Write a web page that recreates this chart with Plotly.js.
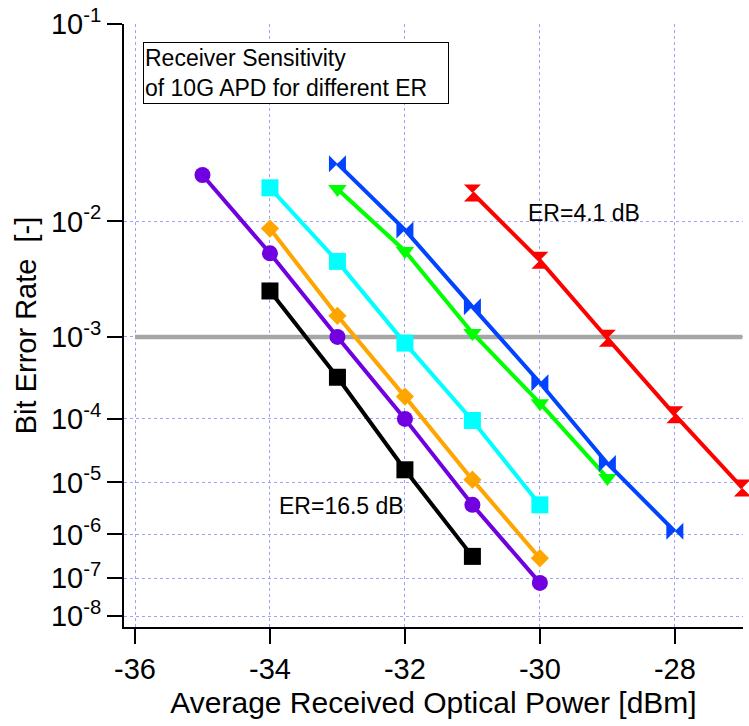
<!DOCTYPE html>
<html>
<head>
<meta charset="utf-8">
<script src="https://cdn.plot.ly/plotly-3.0.1.min.js"></script>
<style>html,body{margin:0;padding:0;background:#fff;}#chart{width:749px;height:726px;}</style>
</head>
<body>
<div id="chart"></div>
<script>
// Average received optical power [dBm] and Bit Error Rate for each ER curve
const purpleX = [-35, -34, -33, -32, -31, -30];
const purpleBER = [2.0e-2, 5.8e-3, 1.0e-3, 1.0e-4, 3.9e-6, 7.7e-8];
const blackX = [-34, -33, -32, -31];
const blackBER = [2.8e-3, 3.5e-4, 1.65e-5, 3.3e-7];
const orangeX = [-34, -33, -32, -31, -30];
const orangeBER = [8.9e-3, 1.64e-3, 2.0e-4, 1.12e-5, 3.0e-7];
const cyanX = [-34, -33, -32, -31, -30];
const cyanBER = [1.67e-2, 5.0e-3, 8.6e-4, 9.5e-5, 3.9e-6];
const greenX = [-33, -32, -31, -30, -29];
const greenBER = [1.64e-2, 6.05e-3, 1.1e-3, 1.64e-4, 1.2e-5];
const blueX = [-33, -32, -31, -30, -29, -28];
const blueBER = [2.33e-2, 8.7e-3, 2.0e-3, 3.0e-4, 2.1e-5, 1.16e-6];
const redX = [-31, -30, -29, -28, -27];
const redBER = [1.55e-2, 5.1e-3, 9.7e-4, 1.14e-4, 8.0e-6];
const refLineX = [-36, -27];
const refLineBER = [1e-3, 1e-3];

const yTickBER = [1e-1, 1e-2, 1e-3, 1e-4, 1e-5, 1e-6, 1e-7, 1e-8];
const yTickText = ['10<sup>-1</sup>', '10<sup>-2</sup>', '10<sup>-3</sup>', '10<sup>-4</sup>',
                   '10<sup>-5</sup>', '10<sup>-6</sup>', '10<sup>-7</sup>', '10<sup>-8</sup>'];
const xTickVals = [-36, -34, -32, -30, -28];
const xTickText = ['-36', '-34', '-32', '-30', '-28'];

// BER axis scale: log10(-log10(BER))
const T = b => Math.log10(-Math.log10(b));
const tr = arr => arr.map(T);

const FONT = 'Liberation Sans, Arial, Helvetica, sans-serif';

function series(x, ber, color, symbol, size) {
  return {
    x: x, y: tr(ber), type: 'scatter', mode: 'lines+markers',
    line: {color: color, width: 4},
    marker: {color: color, symbol: symbol, size: size, line: {width: 0}},
    cliponaxis: false, showlegend: false, hoverinfo: 'skip'
  };
}

const traces = [
  {x: refLineX, y: tr(refLineBER), type: 'scatter', mode: 'lines',
   line: {color: '#a6a6a6', width: 4.5}, showlegend: false, hoverinfo: 'skip'},
  series(blackX, blackBER, '#000000', 'square', 17),
  series(orangeX, orangeBER, '#FFA500', 'diamond', 14),
  series(purpleX, purpleBER, '#7000E0', 'circle', 16),
  series(cyanX, cyanBER, '#00FFFF', 'square', 17),
  series(greenX, greenBER, '#00FF00', 'triangle-down', 16),
  series(blueX, blueBER, '#0044FF', 'bowtie', 17),
  series(redX, redBER, '#FF0000', 'hourglass', 17)
];

const layout = {
  width: 749, height: 726,
  margin: {l: 124, r: 6, t: 24, b: 99},
  paper_bgcolor: '#ffffff', plot_bgcolor: '#ffffff',
  font: {family: FONT, color: '#000'},
  showlegend: false,
  xaxis: {
    range: [-36.163, -26.99],
    tickvals: xTickVals, ticktext: xTickText,
    ticks: 'outside', ticklen: 15, tickwidth: 2, tickcolor: '#000',
    showline: true, linecolor: '#000', linewidth: 2,
    showgrid: true, gridcolor: '#a0a0ff', gridwidth: 1, griddash: 'dot',
    zeroline: false,
    tickfont: {family: FONT, size: 29, color: '#000'},
    title: {text: 'Average Received Optical Power [dBm]', font: {family: FONT, size: 30, color: '#000'}, standoff: 8}
  },
  yaxis: {
    range: [T(Math.pow(10, -8.305)), 0],
    tickvals: tr(yTickBER), ticktext: yTickText,
    ticks: 'outside', ticklen: 15, tickwidth: 2, tickcolor: '#000',
    showline: true, linecolor: '#000', linewidth: 2,
    showgrid: true, gridcolor: '#a0a0ff', gridwidth: 1, griddash: 'dot',
    zeroline: false,
    tickfont: {family: FONT, size: 29, color: '#000'},
    title: {text: 'Bit Error Rate\u00a0\u00a0[-]', font: {family: FONT, size: 29, color: '#000'}, standoff: 6}
  },
  annotations: [
    {xref: 'paper', yref: 'paper', x: 0.0307, y: 0.970, xanchor: 'left', yanchor: 'top',
     text: 'Receiver Sensitivity<br>of 10G APD for different ER', align: 'left', valign: 'middle',
     showarrow: false, width: 302, height: 58, borderpad: 1, bordercolor: '#000', borderwidth: 1,
     bgcolor: '#ffffff', font: {family: FONT, size: 23, color: '#000'}},
    {xref: 'paper', yref: 'paper', x: 0.743, y: 0.6866, xanchor: 'center', yanchor: 'middle',
     text: 'ER=4.1 dB', showarrow: false, font: {family: FONT, size: 23, color: '#000'}},
    {xref: 'paper', yref: 'paper', x: 0.3506, y: 0.2007, xanchor: 'center', yanchor: 'middle',
     text: 'ER=16.5 dB', showarrow: false, font: {family: FONT, size: 23, color: '#000'}}
  ]
};

Plotly.newPlot('chart', traces, layout, {displayModeBar: false, staticPlot: true});
</script>
</body>
</html>
